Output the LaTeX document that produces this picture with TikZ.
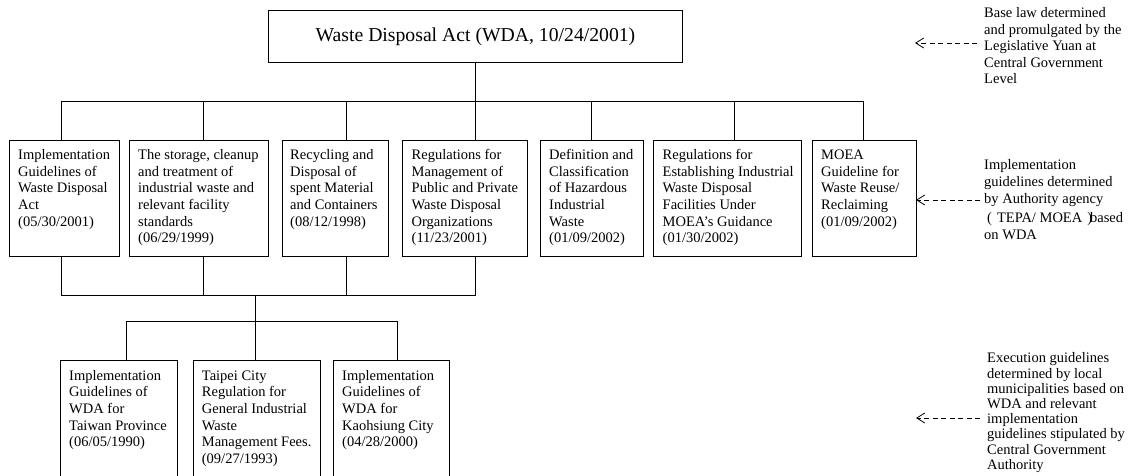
\documentclass[tikz,border=0pt]{standalone}
\usepackage{fontspec}
\setmainfont{Liberation Serif}
\usetikzlibrary{arrows.meta}

% left-aligned stack of explicit lines
\newcommand\stack[1]{\begin{tabular}[t]{@{}l@{}}#1\end{tabular}}

\tikzset{
  lawbox/.style={draw, line width=1pt, inner sep=0pt, anchor=north west},
  boxtext/.style={inner sep=0pt, anchor=north west, font=\fontsize{14.5}{16.6}\selectfont},
  link/.style={line width=0.8pt},
  note/.style={inner sep=0pt, anchor=north west},
  pointer/.style={line width=0.8pt, dash pattern=on 5pt off 3.5pt,
    -{Straight Barb[length=8pt,width=10pt]}}
}

\begin{document}
\begin{tikzpicture}[x=1pt, y=-1pt]
\useasboundingbox (0,0) rectangle (1134,476);

% base law
\node[lawbox, minimum width=414pt, minimum height=52.5pt,
      font=\fontsize{19.7}{22}\selectfont] (wda) at (268,10)
  {Waste Disposal Act (WDA, 10/24/2001)};

% implementation guidelines (central level)
\node[lawbox, minimum width=110pt, minimum height=116.5pt] (b1) at (9,139.5) {};
\node[lawbox, minimum width=139pt, minimum height=116.5pt] (b2) at (129,139.5) {};
\node[lawbox, minimum width=106pt, minimum height=116.5pt] (b3) at (282,139.5) {};
\node[lawbox, minimum width=125pt, minimum height=116.5pt] (b4) at (402,139.5) {};
\node[lawbox, minimum width=103pt, minimum height=116.5pt] (b5) at (540,139.5) {};
\node[lawbox, minimum width=148pt, minimum height=116.5pt] (b6) at (653,139.5) {};
\node[lawbox, minimum width=104pt, minimum height=116.5pt] (b7) at (812,139.5) {};

\node[boxtext] (b1t) at ([shift={(9,8.4)}]b1.north west)
  {\stack{Implementation\\Guidelines of\\Waste Disposal\\Act\\(05/30/2001)}};
\node[boxtext] (b2t) at ([shift={(9,8.4)}]b2.north west)
  {\stack{The storage, cleanup\\and treatment of\\industrial waste and\\relevant facility\\standards\\(06/29/1999)}};
\node[boxtext] (b3t) at ([shift={(8,8.4)}]b3.north west)
  {\stack{Recycling and\\Disposal of\\spent Material\\and Containers\\(08/12/1998)}};
\node[boxtext] (b4t) at ([shift={(9.5,8.4)}]b4.north west)
  {\stack{Regulations for\\Management of\\Public and Private\\Waste Disposal\\Organizations\\(11/23/2001)}};
\node[boxtext] (b5t) at ([shift={(9,8.4)}]b5.north west)
  {\stack{Definition and\\Classification\\of Hazardous\\Industrial\\Waste\\(01/09/2002)}};
\node[boxtext] (b6t) at ([shift={(9.5,8.4)}]b6.north west)
  {\stack{Regulations for\\Establishing Industrial\\Waste Disposal\\Facilities Under\\MOEA’s Guidance\\(01/30/2002)}};
\node[boxtext] (b7t) at ([shift={(9,8.4)}]b7.north west)
  {\stack{MOEA\\Guideline for\\Waste Reuse/\\Reclaiming\\(01/09/2002)}};

% execution guidelines (local level)
\node[lawbox, minimum width=117pt, minimum height=120pt] (c1) at (60,360) {};
\node[lawbox, minimum width=127pt, minimum height=120pt] (c2) at (193,360) {};
\node[lawbox, minimum width=116pt, minimum height=120pt] (c3) at (333,360) {};

\node[boxtext] (c1t) at ([shift={(9,8.4)}]c1.north west)
  {\stack{Implementation\\Guidelines of\\WDA for\\Taiwan Province\\(06/05/1990)}};
\node[boxtext] (c2t) at ([shift={(8.7,8.4)}]c2.north west)
  {\stack{Taipei City\\Regulation for\\General Industrial\\Waste\\Management Fees.\\(09/27/1993)}};
\node[boxtext] (c3t) at ([shift={(9,8.4)}]c3.north west)
  {\stack{Implementation\\Guidelines of\\WDA for\\Kaohsiung City\\(04/28/2000)}};

% upper bus
\coordinate (u1) at (61,101);
\coordinate (u2) at (203,101);
\coordinate (u3) at (346,101);
\coordinate (u4) at (475.5,101);
\coordinate (u5) at (591,101);
\coordinate (u6) at (734,101);
\coordinate (u7) at (863,101);
\draw[link] (u1) -- (u7);
\draw[link] (wda.south -| u4) -- (u4);
\foreach \u/\b in {u1/b1,u2/b2,u3/b3,u4/b4,u5/b5,u6/b6,u7/b7}
  \draw[link] (\u) -- (\u |- \b.north);

% lower bus
\coordinate (d1) at (61,295);
\coordinate (d2) at (203,295);
\coordinate (d3) at (346,295);
\coordinate (d4) at (475.5,295);
\coordinate (dm) at (255,295);
\draw[link] (d1) -- (d4);
\foreach \d/\b in {d1/b1,d2/b2,d3/b3,d4/b4}
  \draw[link] (\d |- \b.south) -- (\d);

\coordinate (e1) at (126,321);
\coordinate (e2) at (255,321);
\coordinate (e3) at (397,321);
\draw[link] (dm) -- (e2);
\draw[link] (e1) -- (e3);
\foreach \e/\c in {e1/c1,e2/c2,e3/c3}
  \draw[link] (\e) -- (\e |- \c.north);

% level notes
\node[note, font=\fontsize{14.5}{16.5}\selectfont] (n1) at (984,5.8)
  {\stack{Base law determined\\and promulgated by the\\Legislative Yuan at\\Central Government\\Level}};
\node[note, font=\fontsize{14.5}{16.8}\selectfont] (n2) at (984,157.5)
  {\stack{Implementation\\guidelines determined\\by Authority agency\\[2.5pt]
   \hspace*{3pt}(\hspace{5pt}TEPA/ MOEA\hspace{5pt})\kern-2pt based\\on WDA}};
\node[note, font=\fontsize{14.5}{15.2}\selectfont] (n3) at (987,352)
  {\stack{Execution guidelines\\determined by local\\municipalities based on\\WDA and relevant\\implementation\\guidelines stipulated by\\Central Government\\Authority}};

\coordinate (p1) at (915,43);
\coordinate (p2) at (916,200);
\coordinate (p3) at (916,418);
\draw[pointer] (n1.west |- p1) ++(-7,0) -- (p1);
\draw[pointer] (n2.west |- p2) ++(-4,0) -- (p2);
\draw[pointer] (n3.west |- p3) ++(-7,0) -- (p3);
\end{tikzpicture}
\end{document}
